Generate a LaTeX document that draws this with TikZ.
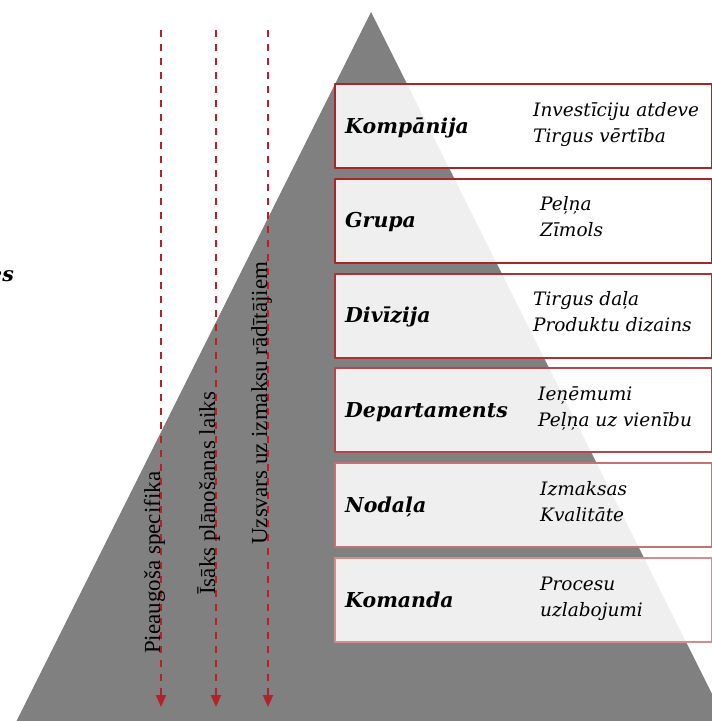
\documentclass[tikz,border=0pt]{standalone}
\usepackage{fontspec}
\setmainfont{Liberation Serif}
\newfontfamily\levelfont{DejaVu Serif}
\usetikzlibrary{arrows.meta}
\definecolor{pyrgray}{RGB}{128,128,128}
\definecolor{boxred}{RGB}{166,38,42}
\definecolor{dashred}{RGB}{178,34,40}
\begin{document}
\begin{tikzpicture}[x=1pt,y=-1pt,line join=round,>={Triangle[length=12pt,width=10pt]},
  levelbox/.style={draw=#1,line width=2pt,fill=white,fill opacity=0.88,minimum width=377pt,minimum height=84pt,inner sep=0pt,anchor=north west},
  levelname/.style={font=\levelfont\bfseries\itshape\fontsize{20.5}{24}\selectfont,anchor=base west,inner sep=0pt},
  levelkpi/.style={font=\levelfont\itshape\fontsize{18.5}{22}\selectfont,anchor=base west,inner sep=0pt},
  trend/.style={->,dashred,line width=2pt,dash pattern=on 7pt off 7pt},
  trendlabel/.style={font=\fontsize{23}{26}\selectfont,rotate=90,anchor=base west,inner sep=0pt}]
  \useasboundingbox (0,0) rectangle (712,721);
  \clip (0,0) rectangle (712,721);
  % pyramid
  \fill[pyrgray] (371,12) -- (725.5,721) -- (16.5,721) -- cycle;
  \node[levelname,anchor=base east] (cut) at (14,281) {es};
  % trends along the pyramid
  \coordinate (spec-top) at (161,30);
  \coordinate (spec-end) at (161,707);
  \coordinate (plan-top) at (216,30);
  \coordinate (plan-end) at (216,707);
  \coordinate (cost-top) at (268,30);
  \coordinate (cost-end) at (268,707);
  \draw[trend] (spec-top) -- (spec-end);
  \draw[trend] (plan-top) -- (plan-end);
  \draw[trend] (cost-top) -- (cost-end);
  \node[trendlabel] (spec) at (160,654) {Pieaugoša specifika};
  \node[trendlabel] (plan) at (215,595) {Īsāks plānošanas laiks};
  \node[trendlabel] (cost) at (267,545) {Uzsvars uz izmaksu rādītājiem};
  % levels
  \foreach \i/\name/\lvl/\kpia/\kpib/\kx/\shade in {
      0/kompanija/Kompānija/Investīciju atdeve/Tirgus vērtība/533/100,
      1/grupa/Grupa/Peļņa/Zīmols/540/100,
      2/divizija/Divīzija/Tirgus daļa/Produktu dizains/533/95,
      3/departaments/Departaments/Ieņēmumi/Peļņa uz vienību/538/85,
      4/nodala/Nodaļa/Izmaksas/Kvalitāte/540/65,
      5/komanda/Komanda/Procesu/uzlabojumi/540/52}{
    \pgfmathsetmacro\top{83+94.8*\i}
    \node[levelbox=boxred!\shade] (\name) at (334,\top) {};
    \node[levelname] (\name-name) at (345,{\top+50}) {\lvl};
    \node[levelkpi] (\name-kpia) at (\kx,{\top+33}) {\kpia};
    \node[levelkpi] (\name-kpib) at (\kx,{\top+59}) {\kpib};
  }
\end{tikzpicture}
\end{document}
